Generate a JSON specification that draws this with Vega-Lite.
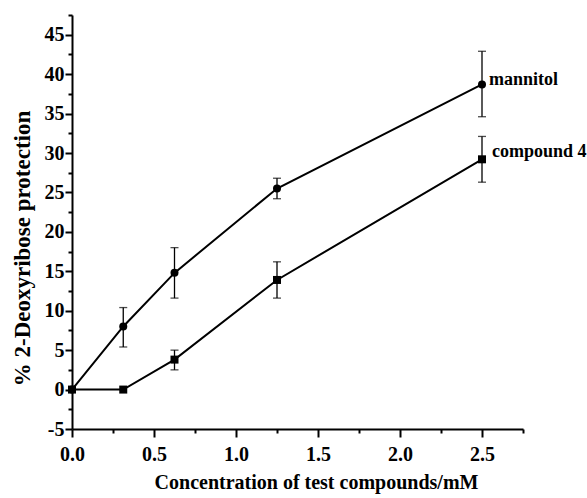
{
  "$schema": "https://vega.github.io/schema/vega-lite/v6.json",
  "width": 451,
  "height": 414,
  "autosize": "none",
  "padding": {"left": 72, "top": 15, "right": 64, "bottom": 69},
  "background": "white",
  "config": {
    "view": {"stroke": null},
    "font": "Liberation Serif",
    "axis": {"grid": false, "domainColor": "black", "domainWidth": 2, "tickColor": "black", "tickWidth": 2, "labelColor": "black", "titleColor": "black", "labelFont": "Liberation Serif", "titleFont": "Liberation Serif", "labelFontWeight": "bold", "titleFontWeight": "bold", "labelFontSize": 20, "titleFontSize": 20, "labelFlush": false, "labelOverlap": false}
  },
  "data": {
    "values": [
      {"series": "mannitol", "x": 0, "y": 0, "lo": null, "hi": null},
      {"series": "mannitol", "x": 0.3125, "y": 8.0, "lo": 5.4, "hi": 10.4},
      {"series": "mannitol", "x": 0.625, "y": 14.8, "lo": 11.6, "hi": 18.0},
      {"series": "mannitol", "x": 1.25, "y": 25.5, "lo": 24.2, "hi": 26.8},
      {"series": "mannitol", "x": 2.5, "y": 38.7, "lo": 34.6, "hi": 42.9},
      {"series": "compound 4", "x": 0, "y": 0, "lo": null, "hi": null},
      {"series": "compound 4", "x": 0.3125, "y": 0, "lo": null, "hi": null},
      {"series": "compound 4", "x": 0.625, "y": 3.8, "lo": 2.5, "hi": 5.0},
      {"series": "compound 4", "x": 1.25, "y": 13.9, "lo": 11.6, "hi": 16.2},
      {"series": "compound 4", "x": 2.5, "y": 29.2, "lo": 26.3, "hi": 32.1}
    ]
  },
  "resolve": {"axis": {"x": "independent", "y": "independent"}},
  "layer": [
    {
      "mark": {"type": "line", "color": "black", "strokeWidth": 2},
      "encoding": {
        "x": {"field": "x", "type": "quantitative", "scale": {"domain": [0, 2.75], "nice": false, "zero": false},
          "axis": {"orient": "bottom", "values": [0, 0.5, 1, 1.5, 2, 2.5], "format": ".1f", "tickSize": 8, "labelPadding": 7, "title": "Concentration of test compounds/mM", "titleX": 244, "titleY": 59, "titleBaseline": "alphabetic", "titleAlign": "center"}},
        "y": {"field": "y", "type": "quantitative", "scale": {"domain": [-5, 47.5], "nice": false, "zero": false},
          "axis": {"orient": "left", "values": [-5, 0, 5, 10, 15, 20, 25, 30, 35, 40, 45], "labelExpr": "replace(datum.label, '\u2212', '-')", "tickSize": 7, "labelPadding": 1, "title": "% 2-Deoxyribose protection", "titleFontSize": 23, "titleAngle": -90, "titleX": -43, "titleY": 233, "titleBaseline": "alphabetic", "titleAlign": "center"}},
        "detail": {"field": "series"}
      }
    },
    {
      "mark": {"type": "rule", "color": "black", "strokeWidth": 1.3},
      "transform": [{"filter": "datum.lo != null"}],
      "encoding": {
        "x": {"field": "x", "type": "quantitative", "scale": {"domain": [0, 2.75], "nice": false, "zero": false},
          "axis": {"orient": "bottom", "values": [0.25, 0.75, 1.25, 1.75, 2.25, 2.75], "tickSize": 4, "labels": false, "domain": false, "title": null}},
        "y": {"field": "lo", "type": "quantitative", "scale": {"domain": [-5, 47.5], "nice": false, "zero": false},
          "axis": {"orient": "left", "values": [-2.5, 2.5, 7.5, 12.5, 17.5, 22.5, 27.5, 32.5, 37.5, 42.5, 47.5], "tickSize": 4, "labels": false, "domain": false, "title": null}},
        "y2": {"field": "hi"}
      }
    },
    {
      "mark": {"type": "tick", "color": "black", "orient": "horizontal", "size": 8, "thickness": 1.3},
      "transform": [{"filter": "datum.lo != null"}],
      "encoding": {
        "x": {"field": "x", "type": "quantitative", "axis": null},
        "y": {"field": "lo", "type": "quantitative", "axis": null}
      }
    },
    {
      "mark": {"type": "tick", "color": "black", "orient": "horizontal", "size": 8, "thickness": 1.3},
      "transform": [{"filter": "datum.hi != null"}],
      "encoding": {
        "x": {"field": "x", "type": "quantitative", "axis": null},
        "y": {"field": "hi", "type": "quantitative", "axis": null}
      }
    },
    {
      "mark": {"type": "point", "filled": true, "opacity": 1, "color": "black", "size": 64},
      "encoding": {
        "x": {"field": "x", "type": "quantitative", "axis": null},
        "y": {"field": "y", "type": "quantitative", "axis": null},
        "shape": {"field": "series", "type": "nominal", "scale": {"domain": ["mannitol", "compound 4"], "range": ["circle", "square"]}, "legend": null}
      }
    },
    {
      "mark": {"type": "text", "align": "left", "baseline": "alphabetic", "dx": 7, "dy": 1, "fontWeight": "bold", "fontSize": 18, "font": "Liberation Serif", "color": "black"},
      "transform": [{"filter": "datum.x == 2.5 && datum.series == 'mannitol'"}],
      "encoding": {
        "x": {"field": "x", "type": "quantitative", "axis": null},
        "y": {"field": "y", "type": "quantitative", "axis": null},
        "text": {"field": "series"}
      }
    },
    {
      "mark": {"type": "text", "align": "left", "baseline": "alphabetic", "dx": 10, "dy": -2, "fontWeight": "bold", "fontSize": 18, "font": "Liberation Serif", "color": "black"},
      "transform": [{"filter": "datum.x == 2.5 && datum.series == 'compound 4'"}],
      "encoding": {
        "x": {"field": "x", "type": "quantitative", "axis": null},
        "y": {"field": "y", "type": "quantitative", "axis": null},
        "text": {"field": "series"}
      }
    }
  ]
}
